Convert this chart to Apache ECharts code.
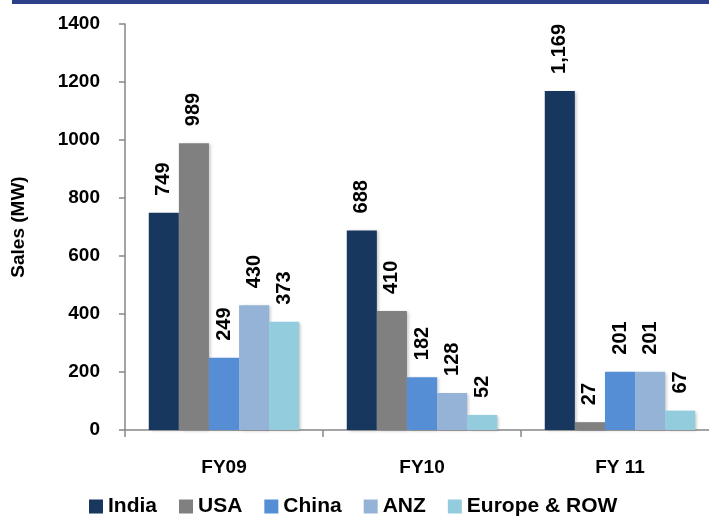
<!DOCTYPE html>
<html>
<head>
<meta charset="utf-8">
<script src="https://cdn.jsdelivr.net/npm/echarts@6/dist/echarts.min.js"></script>
<style>
body { margin: 0; background: #fff; }
#topbar { position: absolute; left: 12px; top: 0; width: 697px; height: 4px; background: #2E3F8A; }
#echart1 { width: 709px; height: 517px; }
</style>
</head>
<body>
<div id="topbar"></div>
<div id="echart1"></div>
<script>
	'use strict'

	var years = ['FY09', 'FY10', 'FY 11'];
	var regions = ['India', 'USA', 'China', 'ANZ', 'Europe & ROW'];
	var india = [749, 688, 1169];
	var usa = [989, 410, 27];
	var china = [249, 182, 201];
	var anz = [430, 128, 201];
	var europe = [373, 52, 67];
	var yTicks = [0, 200, 400, 600, 800, 1000, 1200, 1400];

	var colors = ['#17375E', '#808080', '#558ED5', '#95B3D7', '#93CDDD'];
	var font = "'Liberation Sans', Arial, sans-serif";

	var chartdata1 = [india, usa, china, anz, europe].map(function(vals, i) {
		return {
			name: regions[i],
			type: 'bar',
			data: vals,
			barGap: '0%',
			barCategoryGap: '24%',
			itemStyle: {
				shadowColor: 'rgba(0,0,0,0.22)',
				shadowBlur: 3,
				shadowOffsetX: 2,
				shadowOffsetY: 1
			},
			label: {
				show: true,
				position: 'top',
				rotate: 90,
				align: 'left',
				verticalAlign: 'middle',
				distance: 17,
				fontFamily: font,
				fontWeight: 'bold',
				fontSize: 20,
				color: '#000',
				formatter: function(p) {
					return p.value.toLocaleString('en-US');
				}
			}
		};
	});

	var option1 = {
		animation: false,
		color: colors,
		grid: {
			left: 125,
			top: 24,
			bottom: 87,
			width: 594,
			outerBoundsMode: 'none',
			containLabel: false
		},
		legend: {
			bottom: 0,
			left: 89,
			padding: 0,
			itemWidth: 14,
			itemHeight: 14,
			itemGap: 22,
			icon: 'rect',
			textStyle: {
				fontFamily: font,
				fontWeight: 'bold',
				fontSize: 21,
				color: '#000'
			},
			data: regions
		},
		xAxis: {
			type: 'category',
			data: years,
			axisLine: { lineStyle: { color: '#868686', width: 1.5 } },
			axisTick: { show: true, length: 7, lineStyle: { color: '#868686', width: 1.5 } },
			axisLabel: {
				margin: 28,
				fontFamily: font,
				fontWeight: 'bold',
				fontSize: 19,
				color: '#000'
			}
		},
		yAxis: {
			type: 'value',
			min: yTicks[0],
			max: yTicks[yTicks.length - 1],
			interval: 200,
			name: 'Sales (MW)',
			nameLocation: 'middle',
			nameGap: 97,
			nameRotate: 90,
			nameTextStyle: {
				fontFamily: font,
				fontWeight: 'bold',
				fontSize: 19,
				color: '#000'
			},
			splitLine: { show: false },
			axisLine: { show: true, lineStyle: { color: '#868686', width: 1.5 } },
			axisTick: { show: true, length: 6, lineStyle: { color: '#868686', width: 1.5 } },
			axisLabel: {
				margin: 25,
				fontFamily: font,
				fontWeight: 'bold',
				fontSize: 19,
				color: '#000',
				formatter: function(v) { return String(v); }
			}
		},
		series: chartdata1
	};

	var chart1 = document.getElementById('echart1');
	var barChart1 = echarts.init(chart1);
	barChart1.setOption(option1);
</script>
</body>
</html>
